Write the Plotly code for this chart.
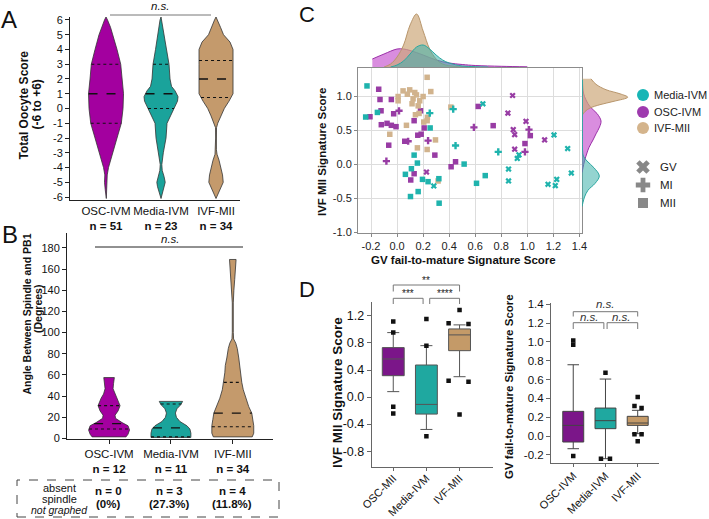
import numpy as np
import plotly.graph_objects as go

W, H = 709, 519
FONT = "Arial, 'Liberation Sans', sans-serif"


def fx(p):
    return p / W


def fy(p):
    return 1 - p / H


def dom_x(a, b):
    return [a / W, b / W]


def dom_y(top, bottom):
    return [1 - bottom / H, 1 - top / H]


# ---------------- Panel A : total oocyte score violins ----------------
a_groups = ["OSC-IVM", "Media-IVM", "IVF-MII"]
a_n = [51, 23, 34]
a_osc_y = [-6.1, -5.5, -5, -4.5, -4, -3.5, -3, -2, -1, 0, 1, 2, 3, 4, 5, 5.5, 6, 6.2]
a_osc_d = [0.3, 0.8, 1.5, 1.2, 2.5, 4.5, 6.7, 11, 15.3, 17, 17.5, 16, 14.7, 11, 7, 4.5, 1.5, 0]
a_med_y = [-6.1, -5.7, -5.3, -5, -4.6, -4.2, -3.8, -3, -2, -1, -0.5, 0, 0.5, 0.8, 1.2, 1.5, 2, 3, 4, 5, 5.5, 6, 6.2]
a_med_d = [0, 1.5, 3.5, 4.2, 3, 1.2, 0.8, 2.3, 5, 6, 9.5, 13, 16.5, 17, 14, 10.5, 9, 8, 5.5, 3, 2, 1, 0]
a_ivf_y = [-6.1, -5.8, -5.5, -5, -4.5, -4, -3.5, -3.1, -2.8, -2, -1.3, -1, -0.5, 0, 0.5, 1, 2, 3, 4, 4.5, 5, 5.5, 6, 6.2]
a_ivf_d = [0, 2, 4, 7.2, 6.5, 5, 3, 1, 0.4, 0.4, 0.5, 1.7, 5, 8.3, 13, 17, 17, 17, 17, 14, 7.5, 4.5, 1.5, 0]
a_quart = [[-1, 1, 3], [0, 1, 3], [0.75, 2, 3.25]]
a_ticks = list(range(-6, 7))

# ---------------- Panel B : spindle angle violins ----------------
b_groups = ["OSC-IVM", "Media-IVM", "IVF-MII"]
b_n = [12, 11, 34]
b_osc_y = [1.5, 4, 8, 12, 15, 19, 22, 26, 31, 38, 42, 47, 52, 57.5]
b_osc_d = [17, 19, 20.5, 19, 13, 6.5, 6, 9, 11, 8, 5.5, 4, 4.5, 5.3]
b_med_y = [1, 5, 9, 12, 16, 20, 24, 28, 32, 35]
b_med_d = [20, 20, 19, 16, 9, 5.5, 4.5, 6, 10, 11.7]
b_ivf_y = [1.5, 5, 12, 18, 24, 30, 38, 46, 53, 62, 69, 76, 85, 90, 94, 100, 128, 134, 140, 150, 160, 169]
b_ivf_d = [19.5, 21, 21, 20, 19, 16, 13, 10.5, 9, 8, 7.5, 6, 4.5, 3, 0.8, 0.5, 0.5, 0.6, 1.1, 1.9, 2.6, 3.3]
b_quart = [[9, 14, 31], [1.5, 10, 32.5], [11, 24, 53]]
b_ticks = list(range(0, 181, 20))
b_absent_n = [0, 3, 4]
b_absent_pct = ["0%", "27.3%", "11.8%"]

# ---------------- Panel C : signature scatter ----------------
c_med_mii_x = [-0.231, -0.241, -0.151, 0.254, 0.131, 0.156, 0.110, 0.064, 0.195, 0.238, 0.321, 0.162, 0.103, 0.323, 0.515, 0.610, 0.677]
c_med_mii_y = [1.156, 0.698, 0.766, 0.537, 0.137, 0.020, -0.063, -0.146, -0.220, -0.254, -0.210, -0.400, -0.473, -0.571, 0.005, -0.278, -0.165]
c_med_mi_x = [0.251, 0.449, 0.431, 0.777]
c_med_mi_y = [0.756, 0.278, 0.815, 0.185]
c_med_gv_x = [0.282, 0.659, 1.205, 1.310, 1.338, 0.936, 0.923, 0.856, 0.856, 1.159, 1.226, 1.215]
c_med_gv_y = [-0.317, 0.893, 0.434, 0.234, -0.127, 0.141, 0.088, -0.068, -0.244, -0.293, -0.220, -0.312]

c_osc_mii_x = [-0.141, -0.131, -0.044, -0.123, -0.208, -0.121, -0.077, -0.044, -0.008, -0.026, 0.131, 0.208, 0.159,
               0.185, 0.059, -0.064, 0.290, 0.449, 0.415, 0.131, 0.105, 0.623, 0.738, 1.023, 0.982, 0.180]
c_osc_mii_y = [1.107, 0.956, 0.956, 0.790, 0.702, 0.585, 0.605, 0.576, 0.556, 0.746, 0.644, 0.537, 0.430,
               0.445, 0.341, 0.283, 0.137, 0.039, -0.034, -0.137, -0.229, 0.854, 0.571, 0.424, 0.307, 0.790]
c_osc_mi_x = [0.015, 0.085, 0.238, -0.082, 0.590, 1.013, 0.982]
c_osc_mi_y = [0.790, 0.341, 0.351, 0.049, 0.546, 0.512, 0.185]
c_osc_gv_x = [0.226, 0.887, 0.851, 0.990, 0.892, 0.903, 1.133, 0.903]
c_osc_gv_y = [-0.112, 1.015, 0.756, 0.634, 0.512, 0.439, 0.361, 0.224]

c_ivf_mii_x = [0.231, 0.046, 0.097, 0.136, 0.079, 0.149, 0.200, 0.259, 0.008, 0.008, 0.123, 0.174, 0.115, 0.162,
               0.141, 0.169, 0.233, 0.231, 0.205, 0.072, -0.056, 0.295, 0.156, 0.231, 0.413, 0.315]
c_ivf_mii_y = [1.283, 1.083, 1.098, 1.059, 1.034, 1.024, 1.000, 1.073, 1.000, 0.937, 0.966, 0.937, 0.893, 0.863,
               0.732, 0.751, 0.693, 0.644, 0.624, 0.576, 0.444, 0.361, 0.244, 0.220, 0.844, -0.244]
c_xticks = [-0.2, 0.0, 0.2, 0.4, 0.6, 0.8, 1.0, 1.2, 1.4]
c_yticks = [-1.0, -0.5, 0.0, 0.5, 1.0]

# marginal densities (top: along GV score, right: along IVF MII score)
c_top_ivf_x = [-0.1, -0.05, 0.0, 0.05, 0.1, 0.15, 0.2, 0.25, 0.3, 0.35, 0.45, 0.6]
c_top_ivf_h = [0, 3, 10, 22, 42, 53, 36, 18, 8, 3, 0.5, 0]
c_top_med_x = [-0.05, 0.0, 0.05, 0.1, 0.15, 0.2, 0.25, 0.3, 0.35, 0.4, 0.5, 0.6, 0.7]
c_top_med_h = [0, 2, 6, 13, 20, 22, 18, 12, 7, 4, 1, 0.3, 0]
c_top_osc_x = [-0.19, -0.1, 0.0, 0.05, 0.1, 0.2, 0.3, 0.4, 0.5, 0.6, 0.8, 1.0]
c_top_osc_h = [8, 13, 18, 18, 16.5, 12, 7, 4, 2.5, 1.5, 0.7, 0.2]

c_rgt_ivf_y = [1.26, 1.18, 1.1, 1.04, 0.99, 0.93, 0.88, 0.83, 0.78, 0.72]
c_rgt_ivf_w = [9, 14, 24, 38, 45.7, 32, 18, 8, 3, 0]
c_rgt_osc_y = [1.25, 1.05, 0.95, 0.85, 0.75, 0.64, 0.55, 0.45, 0.36, 0.25, 0.17, 0.05, -0.05, -0.12]
c_rgt_osc_w = [0.5, 1.5, 4, 8, 15, 19, 17.5, 14, 11, 7, 5, 2.5, 1, 0]
c_rgt_med_y = [1.25, 0.5, 0.2, 0.12, 0.05, -0.05, -0.17, -0.28, -0.38, -0.48, -0.56, -0.62]
c_rgt_med_w = [0.4, 0.4, 0.6, 1.5, 5, 12, 17.3, 13, 6, 2.5, 1, 0]

# ---------------- Panel D : box plots ----------------
dl_groups = ["OSC-MII", "Media-IVM", "IVF-MII"]
dl_q1 = [0.316, -0.252, 0.686]
dl_med = [0.563, -0.109, 0.919]
dl_q3 = [0.731, 0.474, 1.007]
dl_lo = [0.08, -0.479, 0.301]
dl_hi = [0.953, 0.76, 1.067]
dl_out = [[1.116, 0.953, -0.143, -0.242],
          [1.156, 0.76, -0.578],
          [1.289, 1.091, 1.081, 0.242, 0.227, -0.257]]
dl_out_jit = [[0, 0, 0, 0], [0, 0, 0], [0, -0.33, 0.27, -0.33, 0.27, 0]]
dl_ticks = [-0.8, -0.4, 0.0, 0.4, 0.8, 1.2]

dr_groups = ["OSC-IVM", "Media-IVM", "IVF-MII"]
dr_q1 = [-0.064, 0.078, 0.113]
dr_med = [0.113, 0.163, 0.138]
dr_q3 = [0.262, 0.297, 0.209]
dr_lo = [-0.135, -0.241, 0.025]
dr_hi = [0.757, 0.605, 0.273]
dr_out = [[1.016, 0.97, -0.212],
          [0.673, -0.241, -0.241],
          [0.414, 0.319, 0.297, 0.018, 0.018, -0.057]]
dr_out_jit = [[0, 0, 0], [0, -0.14, 0.14], [0, -0.1, 0.12, -0.1, 0.12, 0]]
dr_ticks = [-0.2, 0.0, 0.2, 0.4, 0.6, 0.8, 1.0, 1.2, 1.4]

# ---------------- colours ----------------
AB_COL = ["#A3009F", "#1AA39B", "#C49A6C"]
C_TEAL, C_PURP, C_TAN = "#1FB3AD", "#983CA4", "#D1B38D"
D_COL = ["#7B1689", "#1FA8A0", "#C49A68"]

fig = go.Figure()


def violin(center, ys, ds, scale, color, xa, ya):
    ys = np.asarray(ys, float)
    ws = np.asarray(ds, float) * scale
    x = np.concatenate([center + ws, (center - ws)[::-1], [center + ws[0]]])
    y = np.concatenate([ys, ys[::-1], [ys[0]]])
    fig.add_trace(go.Scatter(x=x, y=y, mode="lines", fill="toself", fillcolor=color,
                             line=dict(color="#333333", width=0.8), xaxis=xa, yaxis=ya,
                             hoverinfo="skip", showlegend=False))


def quart_lines(center, ys, ds, scale, quarts, xa, ya):
    ys = np.asarray(ys, float)
    ds = np.asarray(ds, float)
    for i, q in enumerate(quarts):
        w = np.interp(q, ys, ds) * scale
        fig.add_trace(go.Scatter(x=[center - w, center + w], y=[q, q], mode="lines",
                                 line=dict(color="#111111", width=1.3 if i == 1 else 1.1,
                                           dash="dash" if i == 1 else "dot"),
                                 xaxis=xa, yaxis=ya, hoverinfo="skip", showlegend=False))


def fmt(v, d):
    return f"{v:.{d}f}"


# Panel A
A_SCALE = 1 / 55.0
for k, (ys, ds) in enumerate([(a_osc_y, a_osc_d), (a_med_y, a_med_d), (a_ivf_y, a_ivf_d)]):
    violin(k, ys, ds, A_SCALE, AB_COL[k], "x", "y")
    quart_lines(k, ys, ds, A_SCALE, a_quart[k], "x", "y")

# Panel B
B_SCALE = 1 / 62.0
for k, (ys, ds) in enumerate([(b_osc_y, b_osc_d), (b_med_y, b_med_d), (b_ivf_y, b_ivf_d)]):
    violin(k, ys, ds, B_SCALE, AB_COL[k], "x2", "y2")
    quart_lines(k, ys, ds, B_SCALE, b_quart[k], "x2", "y2")

# Panel C marginals
for xs, hs, fc, lc in [(c_top_osc_x, c_top_osc_h, "rgba(196,80,206,0.65)", "#9B30A8"),
                       (c_top_ivf_x, c_top_ivf_h, "rgba(205,168,122,0.70)", "#B8966C"),
                       (c_top_med_x, c_top_med_h, "rgba(60,176,170,0.55)", "#2AA7A0")]:
    fig.add_trace(go.Scatter(x=xs, y=hs, mode="lines", fill="tozeroy", fillcolor=fc,
                             line=dict(color=lc, width=1, shape="spline"), xaxis="x4", yaxis="y4",
                             hoverinfo="skip", showlegend=False))
for ys, ws, fc, lc in [(c_rgt_osc_y, c_rgt_osc_w, "rgba(196,80,206,0.65)", "#9B30A8"),
                       (c_rgt_ivf_y, c_rgt_ivf_w, "rgba(205,168,122,0.70)", "#B8966C"),
                       (c_rgt_med_y, c_rgt_med_w, "rgba(60,176,170,0.55)", "#2AA7A0")]:
    fig.add_trace(go.Scatter(x=ws, y=ys, mode="lines", fill="tozerox", fillcolor=fc,
                             line=dict(color=lc, width=1, shape="spline"), xaxis="x5", yaxis="y5",
                             hoverinfo="skip", showlegend=False))

# Panel C scatter
SYM = {"GV": ("x", 5.5), "MI": ("cross", 6), "MII": ("square", 5.5)}
for xs, ys, col, stage in [
    (c_osc_mii_x, c_osc_mii_y, C_PURP, "MII"), (c_osc_mi_x, c_osc_mi_y, C_PURP, "MI"),
    (c_osc_gv_x, c_osc_gv_y, C_PURP, "GV"),
    (c_ivf_mii_x, c_ivf_mii_y, C_TAN, "MII"),
    (c_med_mii_x, c_med_mii_y, C_TEAL, "MII"), (c_med_mi_x, c_med_mi_y, C_TEAL, "MI"),
    (c_med_gv_x, c_med_gv_y, C_TEAL, "GV")]:
    s, sz = SYM[stage]
    fig.add_trace(go.Scatter(x=xs, y=ys, mode="markers",
                             marker=dict(symbol=s, size=sz, color=col, line=dict(width=0)),
                             xaxis="x3", yaxis="y3", hoverinfo="skip", showlegend=False))

# Panel C custom legend (pixel-coordinate helper axis)
leg_groups = ["Media-IVM", "OSC-IVM", "IVF-MII"]
leg_cols = ["#17B5B5", "#9E3AAE", "#D4B48C"]
leg_stages = ["GV", "MI", "MII"]
fig.add_trace(go.Scatter(x=[643] * 3, y=[95, 112, 128], mode="markers",
                         marker=dict(symbol="circle", size=12, color=leg_cols),
                         xaxis="x8", yaxis="y8", hoverinfo="skip", showlegend=False))
fig.add_trace(go.Scatter(x=[643] * 3, y=[167, 185, 203], mode="markers",
                         marker=dict(symbol=["x", "cross", "square"], size=[12, 12, 10],
                                     color="#555555", line=dict(width=0)),
                         xaxis="x8", yaxis="y8", hoverinfo="skip", showlegend=False))

# Panel D boxes
for k in range(3):
    fig.add_trace(go.Box(x=[k], q1=[dl_q1[k]], median=[dl_med[k]], q3=[dl_q3[k]],
                         lowerfence=[dl_lo[k]], upperfence=[dl_hi[k]], boxpoints=False,
                         width=0.66, whiskerwidth=0.55, fillcolor=D_COL[k],
                         line=dict(color="#555555", width=1), xaxis="x6", yaxis="y6",
                         hoverinfo="skip", showlegend=False))
    fig.add_trace(go.Scatter(x=[k + j for j in dl_out_jit[k]], y=dl_out[k], mode="markers",
                             marker=dict(symbol="square", size=4.5, color="#111111"),
                             xaxis="x6", yaxis="y6", hoverinfo="skip", showlegend=False))
    fig.add_trace(go.Box(x=[k], q1=[dr_q1[k]], median=[dr_med[k]], q3=[dr_q3[k]],
                         lowerfence=[dr_lo[k]], upperfence=[dr_hi[k]], boxpoints=False,
                         width=0.65, whiskerwidth=0.55, fillcolor=D_COL[k],
                         line=dict(color="#444444", width=1), xaxis="x7", yaxis="y7",
                         hoverinfo="skip", showlegend=False))
    fig.add_trace(go.Scatter(x=[k + j for j in dr_out_jit[k]], y=dr_out[k], mode="markers",
                             marker=dict(symbol="square", size=4.5, color="#111111"),
                             xaxis="x7", yaxis="y7", hoverinfo="skip", showlegend=False))

# ---------------- axes ----------------
base = dict(showgrid=False, zeroline=False, automargin=False,
            tickfont=dict(family=FONT, size=11, color="#111"))
lay = dict(
    xaxis=dict(base, domain=dom_x(70, 240), range=[-0.655, 2.436], anchor="y",
               tickvals=[0, 1, 2], ticks="", showline=True, linecolor="#222", linewidth=1, tickangle=0,
               ticktext=[f"{g}<br><b>n = {n}</b>" for g, n in zip(a_groups, a_n)],
               tickfont=dict(family=FONT, size=11.5, color="#111")),
    yaxis=dict(base, domain=dom_y(17, 200), range=[-6.2, 6.2], anchor="x",
               tickvals=a_ticks, ticktext=[str(v) for v in a_ticks],
               ticks="outside", ticklen=4, tickcolor="#222",
               showline=True, linecolor="#222", linewidth=1),
    xaxis2=dict(base, domain=dom_x(67, 273), range=[-0.68, 2.65], anchor="y2", tickangle=0,
                tickvals=[0, 1, 2], ticks="outside", ticklen=4, tickcolor="#222",
                showline=True, linecolor="#222", linewidth=1,
                ticktext=[f"{g}<br><b>n = {n}</b>" for g, n in zip(b_groups, b_n)],
                tickfont=dict(family=FONT, size=11.5, color="#111")),
    yaxis2=dict(base, domain=dom_y(233, 439), range=[-0.5, 194], anchor="x2",
                tickvals=b_ticks, ticktext=[str(v) for v in b_ticks],
                ticks="outside", ticklen=4, tickcolor="#222",
                showline=True, linecolor="#222", linewidth=1),
    xaxis3=dict(base, domain=dom_x(358, 582), range=[-0.3, 1.42], anchor="y3",
                tickvals=c_xticks, ticktext=[fmt(v, 1) for v in c_xticks], tickangle=0,
                showgrid=True, gridcolor="#DDDDDD", ticks="outside", ticklen=3, tickcolor="#888",
                showline=True, mirror=True, linecolor="#8C8C8C", linewidth=1,
                tickfont=dict(family=FONT, size=11, color="#222")),
    yaxis3=dict(base, domain=dom_y(68, 233), range=[-1.01, 1.42], anchor="x3",
                tickvals=c_yticks, ticktext=[fmt(v, 1) for v in c_yticks],
                showgrid=True, gridcolor="#DDDDDD", ticks="outside", ticklen=3, tickcolor="#888",
                showline=True, mirror=True, linecolor="#8C8C8C", linewidth=1,
                tickfont=dict(family=FONT, size=11, color="#222")),
    xaxis4=dict(domain=dom_x(358, 582), range=[-0.3, 1.42], anchor="y4", visible=False),
    yaxis4=dict(domain=dom_y(7, 67), range=[0, 60], anchor="x4", visible=False),
    xaxis5=dict(domain=dom_x(582, 640), range=[0, 58], anchor="y5", visible=False),
    yaxis5=dict(domain=dom_y(68, 233), range=[-1.01, 1.42], anchor="x5", visible=False),
    xaxis6=dict(base, domain=dom_x(371.7, 492.7), range=[-0.65, 3.0], anchor="y6",
                tickvals=[0, 1, 2], ticktext=dl_groups, tickangle=-45, ticks="outside", ticklen=3,
                ticklabelstandoff=-3,
                tickcolor="#666", showline=True, linecolor="#666", linewidth=1,
                tickfont=dict(family=FONT, size=11, color="#111")),
    yaxis6=dict(base, domain=dom_y(301.7, 466.7), range=[-1.03, 1.41], anchor="x6",
                tickvals=dl_ticks, ticktext=[fmt(v, 1) for v in dl_ticks], ticks="outside", ticklen=4,
                tickcolor="#666", showline=True, linecolor="#666", linewidth=1,
                tickfont=dict(family=FONT, size=12.5, color="#111")),
    xaxis7=dict(base, domain=dom_x(551, 659.3), range=[-0.69, 2.67], anchor="y7",
                tickvals=[0, 1, 2], ticktext=dr_groups, tickangle=-45, ticks="outside", ticklen=3,
                ticklabelstandoff=-2,
                tickcolor="#666", showline=True, linecolor="#666", linewidth=1,
                tickfont=dict(family=FONT, size=11, color="#111")),
    yaxis7=dict(base, domain=dom_y(303.3, 463.3), range=[-0.29, 1.41], anchor="x7",
                tickvals=dr_ticks, ticktext=[fmt(v, 1) for v in dr_ticks], ticks="outside",
                ticklen=4, tickcolor="#666", showline=True, linecolor="#666", linewidth=1,
                tickfont=dict(family=FONT, size=11.5, color="#111")),
    xaxis8=dict(domain=dom_x(630, 709), range=[630, 709], anchor="y8", visible=False),
    yaxis8=dict(domain=dom_y(80, 215), range=[215, 80], anchor="x8", visible=False),
)

shapes = []
ann = []


def text(x, y, s, size=11, bold=False, italic=False, angle=0, xanchor="center", color="#111"):
    if bold:
        s = f"<b>{s}</b>"
    if italic:
        s = f"<i>{s}</i>"
    ann.append(dict(x=fx(x), y=fy(y), xref="paper", yref="paper", text=s, showarrow=False,
                    textangle=angle, xanchor=xanchor, yanchor="middle",
                    font=dict(family=FONT, size=size, color=color)))


def pline(x0, y0, x1, y1, color="#555", width=1, dash="solid"):
    shapes.append(dict(type="line", xref="paper", yref="paper", x0=fx(x0), y0=fy(y0),
                       x1=fx(x1), y1=fy(y1), line=dict(color=color, width=width, dash=dash)))


def bracket(xa, xl, xr, y_top, y_drop, color="#777"):
    path = (f"M {xl},{fy(y_drop)} L {xl},{fy(y_top)} L {xr},{fy(y_top)} L {xr},{fy(y_drop)}")
    shapes.append(dict(type="path", xref=xa, yref="paper", path=path,
                       line=dict(color=color, width=1)))


# panel letters
text(9, 19, "A", size=24)
text(10, 234, "B", size=24)
text(307, 14, "C", size=22)
text(307, 289, "D", size=22)

# panel A titles and n.s.
text(23.5, 105, "Total Oocyte Score", size=12, bold=True, angle=-90)
text(36.5, 105, "(-6 to +6)", size=12, bold=True, angle=-90)
pline(110, 15, 211, 15, color="#777", width=1)
text(160, 6, "n.s.", size=11.5, italic=True)

# panel B titles and n.s.
text(26.5, 314, "Angle Between Spindle and PB1", size=10.5, bold=True, angle=-90)
text(38, 309, "(Degrees)", size=10.5, bold=True, angle=-90)
pline(95, 247, 243, 247, color="#222", width=1)
text(170, 239, "n.s.", size=11.5, italic=True)

# panel B absent spindle table
shapes.append(dict(type="rect", xref="paper", yref="paper", x0=fx(17), y0=fy(517), x1=fx(279), y1=fy(480),
                   line=dict(color="#444", width=1, dash="dash")))
text(60, 488, "absent", size=11)
text(60, 499, "spindle", size=11)
text(60, 510, "not graphed", size=10.5, italic=True)
for k, cx in enumerate([108, 169, 232]):
    text(cx, 491, f"n = {b_absent_n[k]}", size=11.5, bold=True)
    text(cx, 504, f"({b_absent_pct[k]})", size=11.5, bold=True)

# panel C titles & legend labels
text(322, 152, "IVF MII Signature Score", size=11.5, bold=True, angle=-90)
text(463, 260, "GV fail-to-mature Signature Score", size=11.5, bold=True)
for g, yy in zip(leg_groups, [95, 112, 128]):
    text(652, yy, g, size=11, xanchor="left", color="#222")
for s, yy in zip(leg_stages, [167, 185, 203]):
    text(658, yy, s, size=11.5, xanchor="left", color="#222")

# panel D titles
text(337, 393, "IVF MII Signature Score", size=13.5, bold=True, angle=-90)
text(509, 387, "GV fail-to-mature Signature Score", size=11.5, bold=True, angle=-90)

# panel D left brackets
bracket("x6", 0, 2, 285, 291.5)
bracket("x6", 0, 0.9, 298.3, 304)
bracket("x6", 1.1, 2, 298.3, 304)
ann.append(dict(x=1, y=fy(280.5), xref="x6", yref="paper", text="**", showarrow=False,
                font=dict(family=FONT, size=10, color="#222")))
ann.append(dict(x=0.45, y=fy(293.5), xref="x6", yref="paper", text="***", showarrow=False,
                font=dict(family=FONT, size=10, color="#222")))
ann.append(dict(x=1.55, y=fy(293.5), xref="x6", yref="paper", text="****", showarrow=False,
                font=dict(family=FONT, size=10, color="#222")))

# panel D right brackets
bracket("x7", 0, 2, 311.7, 316.5)
bracket("x7", 0, 0.95, 322.7, 329)
bracket("x7", 1.05, 2, 322.7, 329)
ann.append(dict(x=1, y=fy(304), xref="x7", yref="paper", text="<i>n.s.</i>", showarrow=False,
                font=dict(family=FONT, size=11.5, color="#333")))
ann.append(dict(x=0.5, y=fy(316.5), xref="x7", yref="paper", text="<i>n.s.</i>", showarrow=False,
                font=dict(family=FONT, size=11.5, color="#333")))
ann.append(dict(x=1.5, y=fy(316.5), xref="x7", yref="paper", text="<i>n.s.</i>", showarrow=False,
                font=dict(family=FONT, size=11.5, color="#333")))

fig.update_layout(width=W, height=H, margin=dict(l=0, r=0, t=0, b=0, pad=0, autoexpand=False),
                  paper_bgcolor="white", plot_bgcolor="white", showlegend=False,
                  font=dict(family=FONT, color="#111"), shapes=shapes, annotations=ann, **lay)

fig.write_html("out.html", config={"displayModeBar": False, "staticPlot": True},
               post_script="document.body.style.margin='0px';document.body.style.overflow='hidden';")
